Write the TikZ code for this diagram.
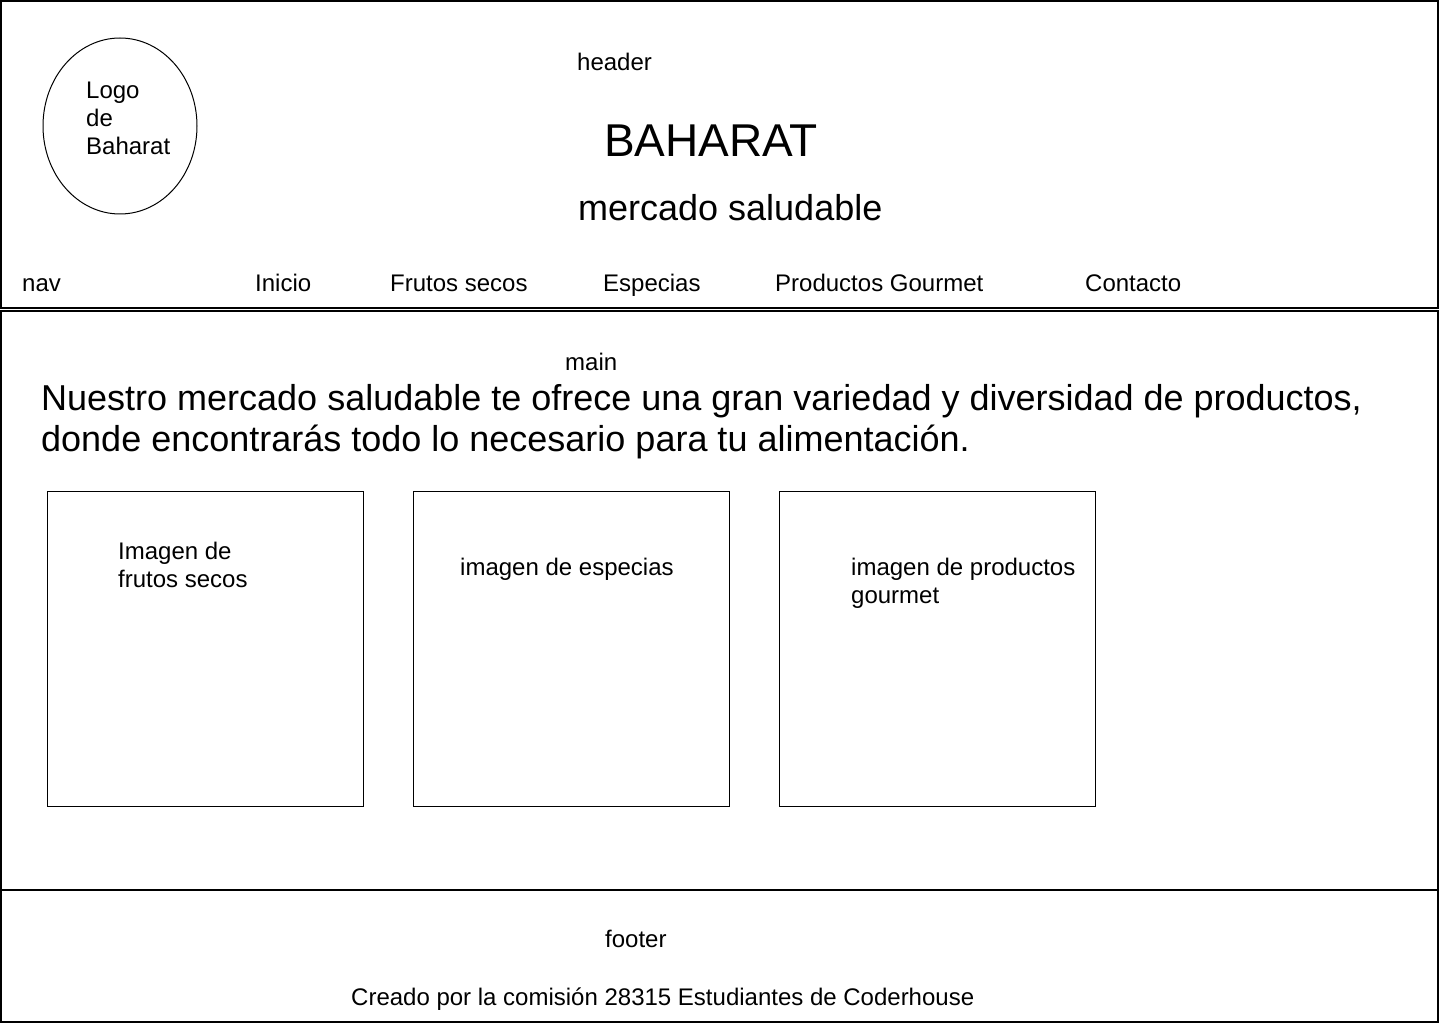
\documentclass[tikz,border=0pt]{standalone}
\usepackage{fontspec}
\setmainfont{Liberation Sans}
\usetikzlibrary{shapes.geometric}
\begin{document}
\begin{tikzpicture}[x=1pt,y=-1pt,
  frame/.style={draw=black,line width=1.3pt},
  box/.style={draw=black,line width=1pt},
  lbl/.style={anchor=base west,inner sep=0pt,font=\fontsize{24}{28}\selectfont,align=left},
  big/.style={anchor=base west,inner sep=0pt,font=\fontsize{36}{41}\selectfont,align=left}]
\useasboundingbox (0,0) rectangle (1440,1024);
\path[fill=white] (0,0) rectangle (1440,1024);
% sections
\draw[frame] (1,1) rectangle (1438,308) node[pos=0,inner sep=0pt] (hdr) {};
\draw[frame] (1,311) rectangle (1438,890) node[pos=0,inner sep=0pt] (mn) {};
\draw[frame] (1,890) rectangle (1438,1022) node[pos=0,inner sep=0pt] (ftr) {};
% header
\node[draw=black,line width=1pt,ellipse,minimum width=154pt,minimum height=176pt,inner sep=0pt] (logo) at (120,126) {};
\node[lbl] (logot) at (86,154.5) {Logo\\de\\Baharat};
\node[lbl] (header) at (577,70.5) {header};
\node[anchor=base west,inner sep=0pt,font=\fontsize{46}{54}\selectfont] (title) at (604,157) {BAHARAT};
\node[anchor=base west,inner sep=0pt,font=\fontsize{36}{41}\selectfont] (sub) at (578,221) {mercado saludable};
% nav
\node[lbl] (nav) at (22,291.5) {nav};
\node[lbl] (inicio) at (255,291.5) {Inicio};
\node[lbl] (frutos) at (390,291.5) {Frutos secos};
\node[lbl] (especias) at (603,291.5) {Especias};
\node[lbl] (gourmet) at (775,291.5) {Productos Gourmet};
\node[lbl] (contacto) at (1085,291.5) {Contacto};
% main
\node[lbl] (main) at (565,370.5) {main};
\node[big] (intro) at (41,451) {Nuestro mercado saludable te ofrece una gran variedad y diversidad de productos,\\donde encontrar\'as todo lo necesario para tu alimentaci\'on.};
\node[box,anchor=north west,minimum width=316pt,minimum height=315pt,inner sep=0pt] (b1) at (47,491) {};
\node[box,anchor=north west,minimum width=316pt,minimum height=315pt,inner sep=0pt] (b2) at (413,491) {};
\node[box,anchor=north west,minimum width=316pt,minimum height=315pt,inner sep=0pt] (b3) at (779,491) {};
\node[lbl] (t1) at (118,587.5) {Imagen de\\frutos secos};
\node[lbl] (t2) at (460,575.5) {imagen de especias};
\node[lbl] (t3) at (851,603.5) {imagen de productos\\gourmet};
% footer
\node[lbl] (footer) at (605,947.5) {footer};
\node[lbl] (credit) at (351,1005.5) {Creado por la comisi\'on 28315 Estudiantes de Coderhouse};
\end{tikzpicture}
\end{document}
